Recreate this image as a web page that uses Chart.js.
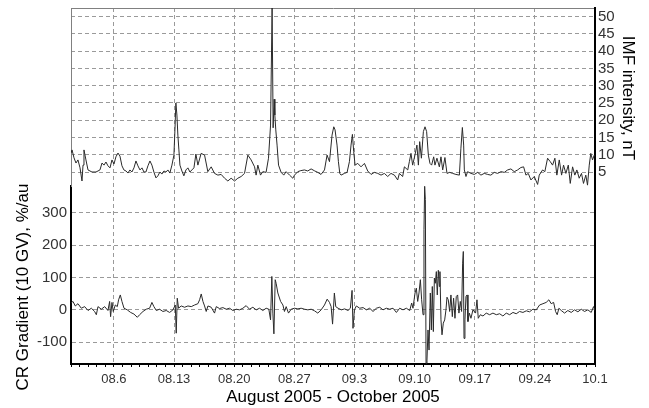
<!DOCTYPE html>
<html>
<head>
<meta charset="utf-8">
<script src="https://cdn.jsdelivr.net/npm/chart.js@4.4.1/dist/chart.umd.min.js"></script>
<style>
body{margin:0;background:#fff;}
canvas{display:block;}
</style>
</head>
<body>
<canvas id="grafico" width="649" height="408"></canvas>
<script>

/* ============================= */
/* DATOS (dias desde 1 agosto) */
/* ============================= */

const imfDays = [
0.00,0.12,0.35,0.58,0.81,1.05,1.28,1.40,1.51,1.74,1.98,2.44,2.91,3.37,3.61,3.84,4.07,4.30,4.54,4.77,
5.00,5.23,5.47,5.70,5.93,6.16,6.40,6.63,6.86,7.09,7.33,7.56,7.79,8.03,8.26,8.49,8.72,8.96,9.19,9.42,
9.65,9.89,10.12,10.35,10.58,10.82,11.05,11.28,11.51,11.75,11.98,12.10,12.21,12.33,12.44,12.56,12.68,12.91,13.14,13.38,
13.61,13.84,14.07,14.31,14.54,14.77,15.15,15.55,15.93,16.32,16.71,17.10,17.48,17.88,18.26,18.64,19.04,19.42,19.81,20.20,
20.59,20.97,21.37,21.55,21.75,22.06,22.33,22.71,22.99,23.23,23.41,23.53,23.65,23.73,23.84,23.99,24.16,24.46,24.77,25.04,
25.44,25.82,26.02,26.40,26.75,27.18,27.56,27.95,28.38,28.73,29.11,29.51,29.81,30.09,30.39,30.59,30.74,30.97,31.13,31.29,
31.44,31.83,32.14,32.41,32.60,32.76,32.91,33.07,33.38,33.76,34.16,34.54,34.93,35.32,35.71,36.09,36.48,36.87,37.25,37.65,
38.03,38.23,38.61,38.81,39.20,39.39,39.58,39.77,40.04,40.27,40.44,40.59,40.79,41.02,41.21,41.40,41.60,41.79,41.98,42.22,
42.37,42.60,42.88,43.07,43.27,43.53,43.77,44.08,44.43,44.81,45.21,45.39,45.56,45.71,45.79,45.98,46.17,46.56,46.95,47.34,
47.72,48.11,48.50,48.88,49.28,49.66,50.05,50.44,50.83,51.21,51.60,51.99,52.37,52.69,52.96,53.23,53.54,53.93,54.32,54.51,
54.90,55.16,55.48,55.79,56.06,56.33,56.56,56.84,57.11,57.34,57.61,57.89,58.12,58.39,58.65,58.89,59.16,59.43,59.66,59.93,
60.13,60.33,60.51,60.71,60.91
];

const imfValues = [
10.5,11.4,9.1,7.6,8.5,6.2,2.4,7.0,11.4,8.5,5.6,5.0,5.0,5.6,7.6,7.0,7.9,6.8,6.2,8.5,
7.3,9.4,10.5,9.6,6.8,5.6,5.3,4.7,5.6,5.0,6.2,8.2,6.8,5.6,6.2,5.0,5.0,6.8,8.2,7.0,
5.0,3.3,3.9,5.0,4.4,5.3,5.0,5.6,4.7,7.0,9.9,17.2,25.0,21.5,15.7,11.4,7.0,5.3,3.9,5.6,
6.2,5.0,5.6,6.2,10.2,7.0,10.4,9.9,5.1,6.5,4.6,4.1,4.3,3.2,2.4,3.2,2.4,3.2,3.7,4.6,
9.9,8.5,6.5,4.1,7.0,4.1,5.1,4.9,9.0,18.6,52.5,17.8,26.1,21.5,17.2,12.8,7.0,4.9,4.1,5.1,
4.1,3.2,4.1,5.1,5.4,5.6,5.3,5.9,5.3,4.9,4.3,5.6,9.9,8.0,15.7,18.1,17.2,12.8,8.0,4.6,
4.1,4.6,4.9,8.0,12.8,15.9,10.9,7.0,7.5,6.5,7.5,5.3,4.3,4.9,4.6,4.1,4.6,3.7,4.6,4.1,
2.7,4.6,3.7,6.5,5.6,8.0,10.4,7.0,9.9,12.8,7.0,13.8,9.0,16.7,18.1,16.7,9.9,7.5,7.0,9.4,
7.0,9.0,6.5,9.4,5.6,9.2,4.6,4.9,4.6,4.3,4.1,11.9,17.9,12.8,5.6,3.7,5.1,4.6,4.3,4.9,
4.1,4.6,4.3,4.1,4.9,4.6,5.1,4.9,5.6,5.9,5.1,5.6,6.3,6.5,4.1,4.6,2.7,3.7,1.4,4.1,
5.6,5.1,9.0,8.0,7.0,9.0,4.1,8.5,4.1,7.0,4.6,7.0,1.7,6.5,4.1,5.6,3.2,4.6,1.7,4.1,
1.2,7.0,10.4,8.5,9.9
];

const crDays = [
0.00,0.23,0.50,0.81,1.20,1.59,1.98,2.37,2.75,2.95,3.14,3.53,3.92,4.30,4.50,4.61,4.77,4.92,5.16,5.39,
5.54,5.74,5.93,6.17,6.55,6.94,7.33,7.72,7.99,8.38,8.76,9.15,9.42,9.65,9.93,10.31,10.70,11.09,11.48,11.87,
12.14,12.25,12.37,12.52,12.83,13.22,13.61,14.00,14.39,14.77,14.97,15.16,15.36,15.55,15.74,15.94,16.32,16.71,16.91,17.29,
17.68,18.07,18.46,18.84,19.23,19.62,20.01,20.39,20.78,21.17,21.56,21.95,22.33,22.72,23.03,23.23,23.38,23.50,23.62,23.77,
23.88,24.08,24.40,24.67,24.85,25.05,25.32,25.63,26.01,26.41,26.79,27.18,27.57,27.96,28.35,28.73,29.12,29.51,29.82,30.09,
30.28,30.45,30.66,30.82,31.09,31.48,31.86,32.25,32.52,32.72,32.83,32.99,33.22,33.61,34.00,34.39,34.77,35.16,35.55,35.94,
36.32,36.71,37.10,37.49,37.88,38.26,38.65,39.04,39.43,39.66,39.81,40.05,40.20,40.36,40.51,40.67,40.82,40.98,41.09,41.17,
41.25,41.33,41.44,41.56,41.68,41.83,41.95,42.06,42.18,42.30,42.41,42.53,42.64,42.76,42.88,42.95,43.07,43.19,43.34,43.50,
43.65,43.77,43.92,44.08,44.23,44.39,44.54,44.70,44.85,45.01,45.16,45.32,45.47,45.59,45.67,45.75,45.86,45.98,46.10,46.21,
46.37,46.56,46.79,47.10,47.26,47.41,47.65,47.96,48.34,48.73,49.12,49.51,49.90,50.28,50.67,51.06,51.45,51.83,52.22,52.61,
53.00,53.38,53.77,54.16,54.55,54.94,55.32,55.63,55.90,56.18,56.41,56.60,56.80,57.07,57.46,57.84,58.23,58.62,59.01,59.40,
59.78,60.17,60.56,60.83,61.00
];

const crValues = [
21,26,12,19,5,10,-2,5,-5,-15,10,2,10,-2,26,-21,23,-5,15,10,
31,46,26,5,0,-8,-13,-23,-15,-5,2,5,23,10,-2,2,-5,-2,-8,0,
15,-72,36,5,12,8,12,10,15,19,31,49,26,12,-5,12,8,-10,10,4,
7,2,5,-2,2,0,5,13,2,8,0,5,-2,5,2,-31,103,-10,-74,93,
82,52,26,15,-5,10,-10,2,5,3,5,2,0,2,-3,-10,0,15,33,23,
10,-44,52,10,5,0,3,-2,5,60,-57,0,12,5,7,0,5,-5,5,8,
0,5,2,5,-8,5,0,5,-2,21,5,52,67,26,52,93,31,-15,247,381,
340,-165,-155,-62,-124,52,-62,72,-67,98,82,118,46,122,72,118,-31,-77,-41,-31,
0,39,31,-5,46,-21,36,-26,41,46,-10,26,-5,144,180,-88,-31,41,46,-36,
-10,-26,0,-10,31,-26,-15,-19,-10,-15,-10,-15,-12,-19,-10,-15,-8,-12,-5,-8,
-3,-6,2,0,15,19,23,31,19,23,-5,-15,5,-2,-10,-2,-8,0,-6,2,
-5,0,-8,10,-2
];

/* ETIQUETAS */

const weekDays = [5,12,19,26,33,40,47,54,61];
const weekLabels = ["08.6","08.13","08.20","08.27","09.3","09.10","09.17","09.24","10.1"];
const imfTicks = [5,10,15,20,25,30,35,40,45,50];
const crTicks = [-100,0,100,200,300];

const xTitle = "August 2005 - October 2005";
const imfTitle = "IMF intensity, nT";
const crTitle = "CR Gradient (10 GV), %/au";


/* ============================= */
/* ESTILO */
/* ============================= */

const fuente = '"Liberation Sans", Arial, sans-serif';
const gris = "#9a9a9a";
const linea = "#2a2a2a";
const guion = [4,3];


/* ============================= */
/* TITULOS ROTADOS */
/* ============================= */

const titulosPlugin = {
id:"titulos",
afterDraw:function(chart){
const ctx = chart.ctx;
ctx.save();
ctx.font = "17px " + fuente;
ctx.fillStyle = "#000";
ctx.textAlign = "center";
ctx.textBaseline = "middle";

ctx.save();
ctx.translate(23, 287);
ctx.rotate(-Math.PI/2);
ctx.fillText(crTitle, 0, 0);
ctx.restore();

ctx.save();
ctx.translate(628, 98);
ctx.rotate(Math.PI/2);
ctx.fillText(imfTitle, 0, 0);
ctx.restore();

ctx.restore();
}
};

/* quitar el relleno que Chart.js agrega por las etiquetas */
function sinRelleno(scale){
scale.paddingTop = 0;
scale.paddingBottom = 0;
scale.paddingLeft = 0;
scale.paddingRight = 0;
}


/* ============================= */
/* GRAFICO */
/* ============================= */

const puntosImf = imfDays.map((d,i)=>({x:d, y:imfValues[i]}));
const puntosCr = crDays.map((d,i)=>({x:d, y:crValues[i]}));

new Chart(document.getElementById("grafico"), {

type:"line",

data:{
datasets:[
{
label:imfTitle,
data:puntosImf,
xAxisID:"x",
yAxisID:"imf",
borderColor:linea,
borderWidth:1,
pointRadius:0,
tension:0
},
{
label:crTitle,
data:puntosCr,
xAxisID:"x",
yAxisID:"cr",
borderColor:linea,
borderWidth:1,
pointRadius:0,
tension:0
}
]
},

options:{

responsive:false,
animation:false,
layout:{padding:0},

plugins:{
legend:{display:false},
tooltip:{enabled:false}
},

scales:{

x:{
type:"linear",
position:"bottom",
min:0,
max:61,
afterBuildTicks:function(scale){
let lista = [];
for(let d=0; d<=61; d++){ lista.push({value:d}); }
scale.ticks = lista;
},
afterFit:function(scale){ scale.height = 44; sinRelleno(scale); },
ticks:{
autoSkip:false,
maxRotation:0,
padding:5,
color:"#333",
font:{family:fuente, size:13},
callback:function(value){
let i = weekDays.indexOf(value);
return i >= 0 ? weekLabels[i] : "";
}
},
grid:{
color:function(c){
return (c.tick && weekDays.indexOf(c.tick.value) >= 0) ? gris : "rgba(0,0,0,0)";
},
tickColor:"#000",
tickBorderDash:[],
tickLength:3,
tickWidth:1
},
border:{color:"#000", width:2, dash:guion},
title:{
display:true,
text:xTitle,
color:"#000",
font:{family:fuente, size:17},
padding:{top:0, bottom:0}
}
},

xTop:{
type:"linear",
position:"top",
min:0,
max:61,
afterFit:function(scale){ scale.height = 8; sinRelleno(scale); },
ticks:{display:false},
grid:{display:false},
border:{color:"#808080", width:1}
},

cr:{
type:"linear",
position:"left",
stack:"izq",
stackWeight:1,
min:-167,
max:382,
afterBuildTicks:function(scale){
scale.ticks = crTicks.map(v=>({value:v}));
},
afterFit:function(scale){ scale.width = 71; sinRelleno(scale); },
ticks:{
padding:4,
color:"#333",
font:{family:fuente, size:15}
},
grid:{color:gris, drawTicks:false},
border:{color:"#000", width:2, dash:guion}
},

pad:{
type:"linear",
position:"left",
stack:"izq",
stackWeight:1,
afterFit:function(scale){ scale.width = 71; sinRelleno(scale); },
ticks:{display:false},
grid:{display:false},
border:{color:"#808080", width:1}
},

imf:{
type:"linear",
position:"right",
min:-50.6,
max:52.5,
afterBuildTicks:function(scale){
scale.ticks = imfTicks.map(v=>({value:v}));
},
afterFit:function(scale){ scale.width = 54; sinRelleno(scale); },
ticks:{
padding:3,
color:"#333",
font:{family:fuente, size:15}
},
grid:{color:gris, drawTicks:false},
border:{color:"#000", width:2, dash:guion}
}

}

},

plugins:[titulosPlugin]

});

</script>
</body>
</html>
